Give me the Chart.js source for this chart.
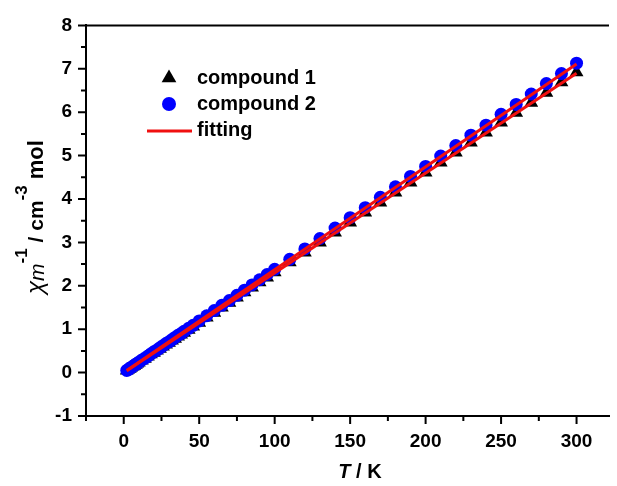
<!DOCTYPE html>
<html>
<head>
<meta charset="utf-8">
<script src="https://cdn.jsdelivr.net/npm/chart.js@4.4.0/dist/chart.umd.min.js"></script>
<style>
    html, body { margin: 0; padding: 0; background: #fff; overflow: hidden; }
    #wrap { width: 617px; height: 486px; position: relative; }
</style>
</head>
<body>
<div id="wrap"><canvas id="chiChart"></canvas></div>
<script>
// temperatures (K), same for both compounds
const temps = [2, 3, 4, 5, 6, 7, 8, 9, 10, 12, 14, 16, 18, 20, 22, 24, 26, 28, 30, 32, 34, 36, 38, 40,
    43, 46, 50, 55, 60, 65, 70, 75, 80, 85, 90, 95, 100, 110, 120, 130, 140, 150, 160, 170, 180,
    190, 200, 210, 220, 230, 240, 250, 260, 270, 280, 290, 300];

// 1/chi_m for compound 1 (triangles)
const compound1 = [0.05, 0.07, 0.09, 0.12, 0.14, 0.16, 0.18, 0.21, 0.23, 0.28, 0.32, 0.37, 0.42, 0.46,
    0.51, 0.55, 0.60, 0.65, 0.69, 0.74, 0.78, 0.83, 0.88, 0.92, 0.99, 1.06, 1.15, 1.27, 1.38, 1.50,
    1.61, 1.73, 1.85, 1.96, 2.08, 2.19, 2.31, 2.54, 2.77, 3.00, 3.23, 3.46, 3.69, 3.92, 4.15, 4.38,
    4.61, 4.84, 5.07, 5.30, 5.53, 5.76, 5.99, 6.22, 6.45, 6.69, 6.92];

// 1/chi_m for compound 2 (circles)
const compound2 = [0.05, 0.07, 0.10, 0.12, 0.14, 0.17, 0.19, 0.21, 0.24, 0.29, 0.33, 0.38, 0.43, 0.48,
    0.52, 0.57, 0.62, 0.67, 0.71, 0.76, 0.81, 0.86, 0.90, 0.95, 1.02, 1.09, 1.19, 1.31, 1.43, 1.55,
    1.66, 1.78, 1.90, 2.02, 2.14, 2.26, 2.38, 2.61, 2.85, 3.09, 3.33, 3.57, 3.80, 4.04, 4.28, 4.52,
    4.75, 4.99, 5.23, 5.47, 5.70, 5.95, 6.18, 6.42, 6.66, 6.89, 7.13];

// fitted Curie-Weiss lines (end points)
const fitT = [2, 300];
const fit1 = [0.04, 6.90];
const fit2 = [0.05, 7.11];

const xTickValues = [-25, 0, 25, 50, 75, 100, 125, 150, 175, 200, 225, 250, 275, 300];
const yTickValues = [-1, -0.5, 0, 0.5, 1, 1.5, 2, 2.5, 3, 3.5, 4, 4.5, 5, 5.5, 6, 6.5, 7, 7.5, 8];

const FONT = '"Liberation Sans", Arial, sans-serif';
const BLUE = '#0000ff';
const RED = '#f01010';

function toPoints(xs, ys) {
    return xs.map((x, i) => ({ x: x, y: ys[i] }));
}

// axis ticks, top frame line, axis titles and the legend
const decorations = {
    id: 'decorations',
    afterDraw(chart) {
        const ctx = chart.ctx;
        const a = chart.chartArea;
        const xs = chart.scales.x;
        const ys = chart.scales.y;
        ctx.save();
        ctx.strokeStyle = '#000';
        ctx.lineWidth = 2;
        ctx.beginPath();
        ctx.moveTo(a.left - 1, a.top);
        ctx.lineTo(a.right, a.top);
        xs.ticks.forEach(t => {
            const px = xs.getPixelForValue(t.value);
            const len = t.value % 50 === 0 ? 8 : 5;
            ctx.moveTo(px, a.bottom);
            ctx.lineTo(px, a.bottom + len);
        });
        ys.ticks.forEach(t => {
            const py = ys.getPixelForValue(t.value);
            const len = Number.isInteger(t.value) ? 8 : 5;
            ctx.moveTo(a.left, py);
            ctx.lineTo(a.left - len, py);
        });
        ctx.stroke();

        // x title: T / K
        ctx.fillStyle = '#000';
        ctx.textBaseline = 'middle';
        ctx.textAlign = 'left';
        const xParts = [
            { t: 'T', f: 'italic bold 20px ' + FONT },
            { t: ' / K', f: 'bold 20px ' + FONT }
        ];
        let w = 0;
        xParts.forEach(p => { ctx.font = p.f; w += ctx.measureText(p.t).width; });
        let cx = 360 - w / 2;
        xParts.forEach(p => { ctx.font = p.f; ctx.fillText(p.t, cx, 472); cx += ctx.measureText(p.t).width; });

        // y title: chi_m^-1 / cm^-3 mol
        ctx.save();
        ctx.translate(43, 294);
        ctx.rotate(-Math.PI / 2);
        ctx.textBaseline = 'alphabetic';
        const yParts = [
            { t: '\u03c7', f: 'italic 24px ' + FONT, dy: 0 },
            { t: 'm', f: 'italic 21px ' + FONT, dy: 1 },
            { t: '-1', f: 'bold 17px ' + FONT, dy: -16 },
            { t: ' / cm', f: 'bold 21px ' + FONT, dy: 0 },
            { t: '-3', f: 'bold 17px ' + FONT, dy: -16 },
            { t: ' mol', f: 'bold 22px ' + FONT, dy: 0 }
        ];
        let ty = 0;
        yParts.forEach(p => {
            ctx.font = p.f;
            ctx.fillText(p.t, ty, p.dy);
            ty += ctx.measureText(p.t).width;
        });
        ctx.restore();

        // legend
        const sets = chart.data.datasets;
        const H = Chart.helpers;
        ctx.font = 'bold 20px ' + FONT;
        ctx.textBaseline = 'middle';
        ctx.fillStyle = '#000';
        ctx.strokeStyle = '#000';
        ctx.lineWidth = 1;
        H.drawPoint(ctx, { pointStyle: 'triangle', radius: 8.5, rotation: 0, borderWidth: 0 }, 169, 78);
        ctx.fillStyle = '#000';
        ctx.fillText(sets[0].label, 197, 78);
        ctx.fillStyle = BLUE;
        ctx.strokeStyle = BLUE;
        H.drawPoint(ctx, { pointStyle: 'circle', radius: 7, rotation: 0, borderWidth: 0 }, 169, 104);
        ctx.fillStyle = '#000';
        ctx.fillText(sets[1].label, 197, 104);
        ctx.strokeStyle = RED;
        ctx.lineWidth = 3;
        ctx.beginPath();
        ctx.moveTo(147, 131);
        ctx.lineTo(192, 131);
        ctx.stroke();
        ctx.fillText(sets[2].label, 197, 130);
        ctx.restore();
    }
};

const ctx = document.getElementById('chiChart').getContext('2d');
const chart = new Chart(ctx, {
    type: 'scatter',
    data: {
        datasets: [
            {
                label: 'compound 1',
                data: toPoints(temps, compound1),
                pointStyle: 'triangle',
                pointRadius: 8,
                backgroundColor: '#000',
                borderColor: '#000',
                borderWidth: 0,
                order: 3
            },
            {
                label: 'compound 2',
                data: toPoints(temps, compound2),
                pointStyle: 'circle',
                pointRadius: 6.5,
                backgroundColor: BLUE,
                borderColor: BLUE,
                borderWidth: 0,
                order: 2
            },
            {
                label: 'fitting',
                data: toPoints(fitT, fit1),
                showLine: true,
                pointRadius: 0,
                borderColor: RED,
                borderWidth: 3,
                order: 1
            },
            {
                label: 'fitting 2',
                data: toPoints(fitT, fit2),
                showLine: true,
                pointRadius: 0,
                borderColor: RED,
                borderWidth: 3,
                order: 0
            }
        ]
    },
    options: {
        responsive: true,
        maintainAspectRatio: false,
        animation: false,
        devicePixelRatio: 1,
        layout: { padding: { top: 22, right: 0, bottom: 0, left: 0 } },
        plugins: {
            legend: { display: false },
            tooltip: { enabled: false }
        },
        scales: {
            x: {
                type: 'linear',
                min: -25,
                max: 321.5,
                afterBuildTicks: scale => { scale.ticks = xTickValues.map(v => ({ value: v })); },
                afterFit: scale => { scale.height = 70; },
                ticks: {
                    autoSkip: false,
                    maxRotation: 0,
                    padding: 14,
                    color: '#000',
                    font: { family: FONT, size: 19, weight: 'bold' },
                    callback: v => (v >= 0 && v % 50 === 0 ? String(v) : '')
                },
                grid: { drawOnChartArea: false, drawTicks: false },
                border: { display: true, color: '#000', width: 2 }
            },
            y: {
                min: -1,
                max: 8,
                afterBuildTicks: scale => { scale.ticks = yTickValues.map(v => ({ value: v })); },
                afterFit: scale => { scale.width = 86; },
                ticks: {
                    autoSkip: false,
                    padding: 14,
                    color: '#000',
                    font: { family: FONT, size: 19, weight: 'bold' },
                    callback: v => (Number.isInteger(v) ? String(v) : '')
                },
                grid: { drawOnChartArea: false, drawTicks: false },
                border: { display: true, color: '#000', width: 2 }
            }
        }
    },
    plugins: [decorations]
});
</script>
</body>
</html>
